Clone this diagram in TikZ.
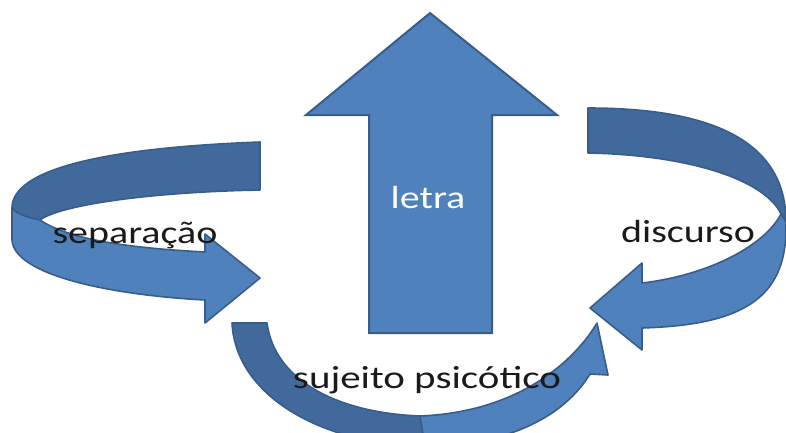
\documentclass[tikz,border=0pt]{standalone}
\usepackage{fontspec}
\setmainfont{Carlito}
\definecolor{frontblue}{HTML}{4F81BD}
\definecolor{backblue}{HTML}{41699B}
\definecolor{edgeblue}{HTML}{385D8A}
\definecolor{inktext}{HTML}{1A1A1A}
\tikzset{
  front/.style={fill=frontblue, draw=edgeblue, line width=1.6pt, line join=round},
  back/.style={fill=backblue, draw=edgeblue, line width=1.6pt, line join=round},
  label/.style={anchor=base, inner sep=0pt, text=inktext, font=\fontsize{32}{36}\selectfont},
}
\begin{document}
\begin{tikzpicture}[x=1pt, y=-1pt]
\useasboundingbox (0,0) rectangle (786,432);
\begin{scope}
\clip (0,0) rectangle (786,432);
% bottom arrow (sujeito psicotico)
\path[back] (232,323) -- (267,323) .. controls (275,382) and (340,413) .. (420,416)
  -- (425,446) .. controls (330,446) and (236,400) .. (232,323) -- cycle;
\path[front] (420,416) .. controls (520,412) and (575,360) .. (597,323)
  -- (608,375) -- (590,374) .. controls (565,415) and (510,446) .. (425,446) -- cycle;
% left arrow (separacao)
\path[back] (12,208) .. controls (12,170) and (100,148) .. (260,142) -- (260,190)
  .. controls (150,192) and (60,205) .. (40,220) .. controls (28,218) and (15,213) .. (12,208) -- cycle;
\path[front] (12,208) -- (12,240) .. controls (14,275) and (110,295) .. (205,300)
  -- (205,323) -- (260,278) -- (205,234) -- (205,252)
  .. controls (130,248) and (70,240) .. (40,220) .. controls (28,218) and (15,213) .. (12,208) -- cycle;
% right arrow (discurso)
\path[back] (588,108) .. controls (710,108) and (786,140) .. (786,222) -- (781,214)
  .. controls (765,180) and (690,155) .. (588,153) -- cycle;
\path[front] (786,222) -- (786,228) .. controls (786,300) and (740,325) .. (642,328)
  -- (642,350) -- (590,308) -- (642,263) -- (642,283)
  .. controls (710,275) and (765,245) .. (781,214) -- cycle;
% up arrow (letra)
\path[front, line width=2pt, line join=miter] (430,13) -- (557,115) -- (492,115) -- (492,333)
  -- (369,333) -- (369,115) -- (306,115) -- cycle;
\end{scope}
\node[label, text=white] (letra) at (428,208) {\scalebox{1.25}[1]{letra}};
\node[label] (separacao) at (135,243) {\scalebox{1.25}[1]{separação}};
\node[label] (discurso) at (688,242) {\scalebox{1.25}[1]{discurso}};
\node[label] (sujeito) at (427,388) {\scalebox{1.28}[1]{sujeito psicótico}};
\end{tikzpicture}
\end{document}
